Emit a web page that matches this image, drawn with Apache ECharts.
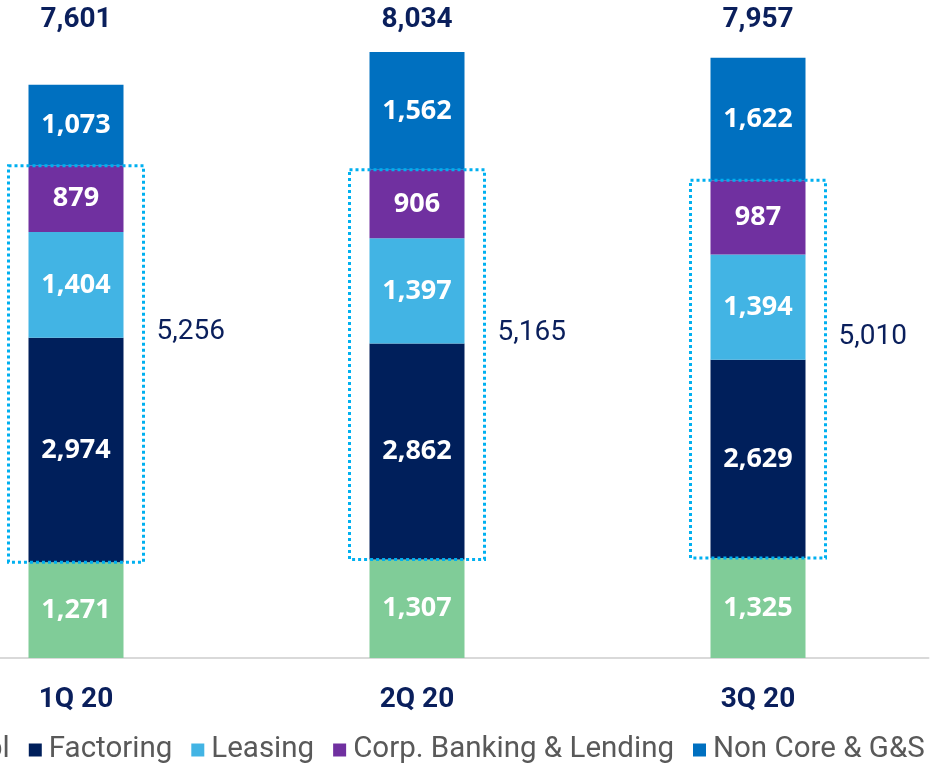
<!DOCTYPE html>
<html>
<head>
<meta charset="utf-8">
<script src="https://cdn.jsdelivr.net/npm/echarts@6/dist/echarts.min.js"></script>
<style>
  html, body { margin: 0; padding: 0; background: #fff; }
  #chart { width: 932px; height: 763px; }
</style>
</head>
<body>
<div id="chart"></div>
<script>
  // quarters and segment values (EUR m)
  const quarters = ['1Q 20', '2Q 20', '3Q 20']
  const npl = [1271, 1307, 1325]
  const factoring = [2974, 2862, 2629]
  const leasing = [1404, 1397, 1394]
  const corpBanking = [879, 906, 987]
  const nonCore = [1073, 1562, 1622]
  const totals = [7601, 8034, 7957]
  const coreTotals = [5256, 5165, 5010]

  const navy = '#0A1F5C'
  const fmt = v => v.toLocaleString('en-US')

  const chart = echarts.init(document.getElementById('chart'))

  function segment(name, data, color) {
    return {
      name: name,
      type: 'bar',
      stack: 'loans',
      barWidth: 95,
      data: data,
      itemStyle: { color: color },
      label: {
        show: true,
        position: 'inside',
        color: '#fff',
        fontFamily: 'Open Sans',
        fontWeight: 'bold',
        fontSize: 27,
        formatter: p => fmt(p.value)
      }
    }
  }

  // dotted box round the commercial & corporate segments, with its total
  const boxData = quarters.map((q, i) => [i, npl[i], npl[i] + coreTotals[i], coreTotals[i]])

  chart.setOption({
    animation: false,
    grid: { left: -94.5, right: 3.5, top: 52, bottom: 105, outerBoundsMode: 'none', containLabel: false },
    legend: {
      left: -60,
      top: 730,
      icon: 'rect',
      itemWidth: 13,
      itemHeight: 13,
      itemGap: 19,
      textStyle: { fontFamily: 'Roboto', fontSize: 29.5, color: '#595959', padding: [0, 0, 0, 2] },
      data: ['Npl', 'Factoring', 'Leasing', 'Corp. Banking & Lending', 'Non Core & G&S']
    },
    xAxis: [
      {
        type: 'category',
        data: quarters,
        axisLine: { lineStyle: { color: '#D9D9D9', width: 2 } },
        axisTick: { show: false },
        axisLabel: {
          margin: 28,
          color: navy,
          fontFamily: 'Roboto',
          fontWeight: 'bold',
          fontSize: 28
        }
      },
      {
        type: 'category',
        position: 'top',
        data: totals.map(fmt),
        axisLine: { show: false },
        axisTick: { show: false },
        axisLabel: {
          margin: 18,
          color: navy,
          fontFamily: 'Roboto',
          fontWeight: 'bold',
          fontSize: 28
        }
      }
    ],
    yAxis: {
      type: 'value',
      min: 0,
      max: Math.max(...totals),
      show: false,
      splitLine: { show: false }
    },
    series: [
      segment('Npl', npl, '#80CC98'),
      segment('Factoring', factoring, '#001F5B'),
      segment('Leasing', leasing, '#42B4E4'),
      segment('Corp. Banking & Lending', corpBanking, '#7030A0'),
      segment('Non Core & G&S', nonCore, '#0070C0'),
      {
        type: 'custom',
        data: boxData,
        z: 10,
        renderItem(params, api) {
          const lo = api.coord([api.value(0), api.value(1)])
          const hi = api.coord([api.value(0), api.value(2)])
          const w = 135
          const x0 = lo[0] - w / 2
          return {
            type: 'group',
            children: [
              {
                type: 'rect',
                shape: { x: x0, y: hi[1], width: w, height: lo[1] - hi[1] },
                style: { fill: 'none', stroke: '#00B0F0', lineWidth: 3, lineDash: [3, 3] }
              },
              {
                type: 'text',
                style: {
                  x: x0 + w + 13,
                  y: (lo[1] + hi[1]) / 2 - 32,
                  text: fmt(api.value(3)),
                  fill: navy,
                  font: '28px Roboto',
                  verticalAlign: 'middle'
                }
              }
            ]
          }
        }
      }
    ]
  })
</script>
</body>
</html>
